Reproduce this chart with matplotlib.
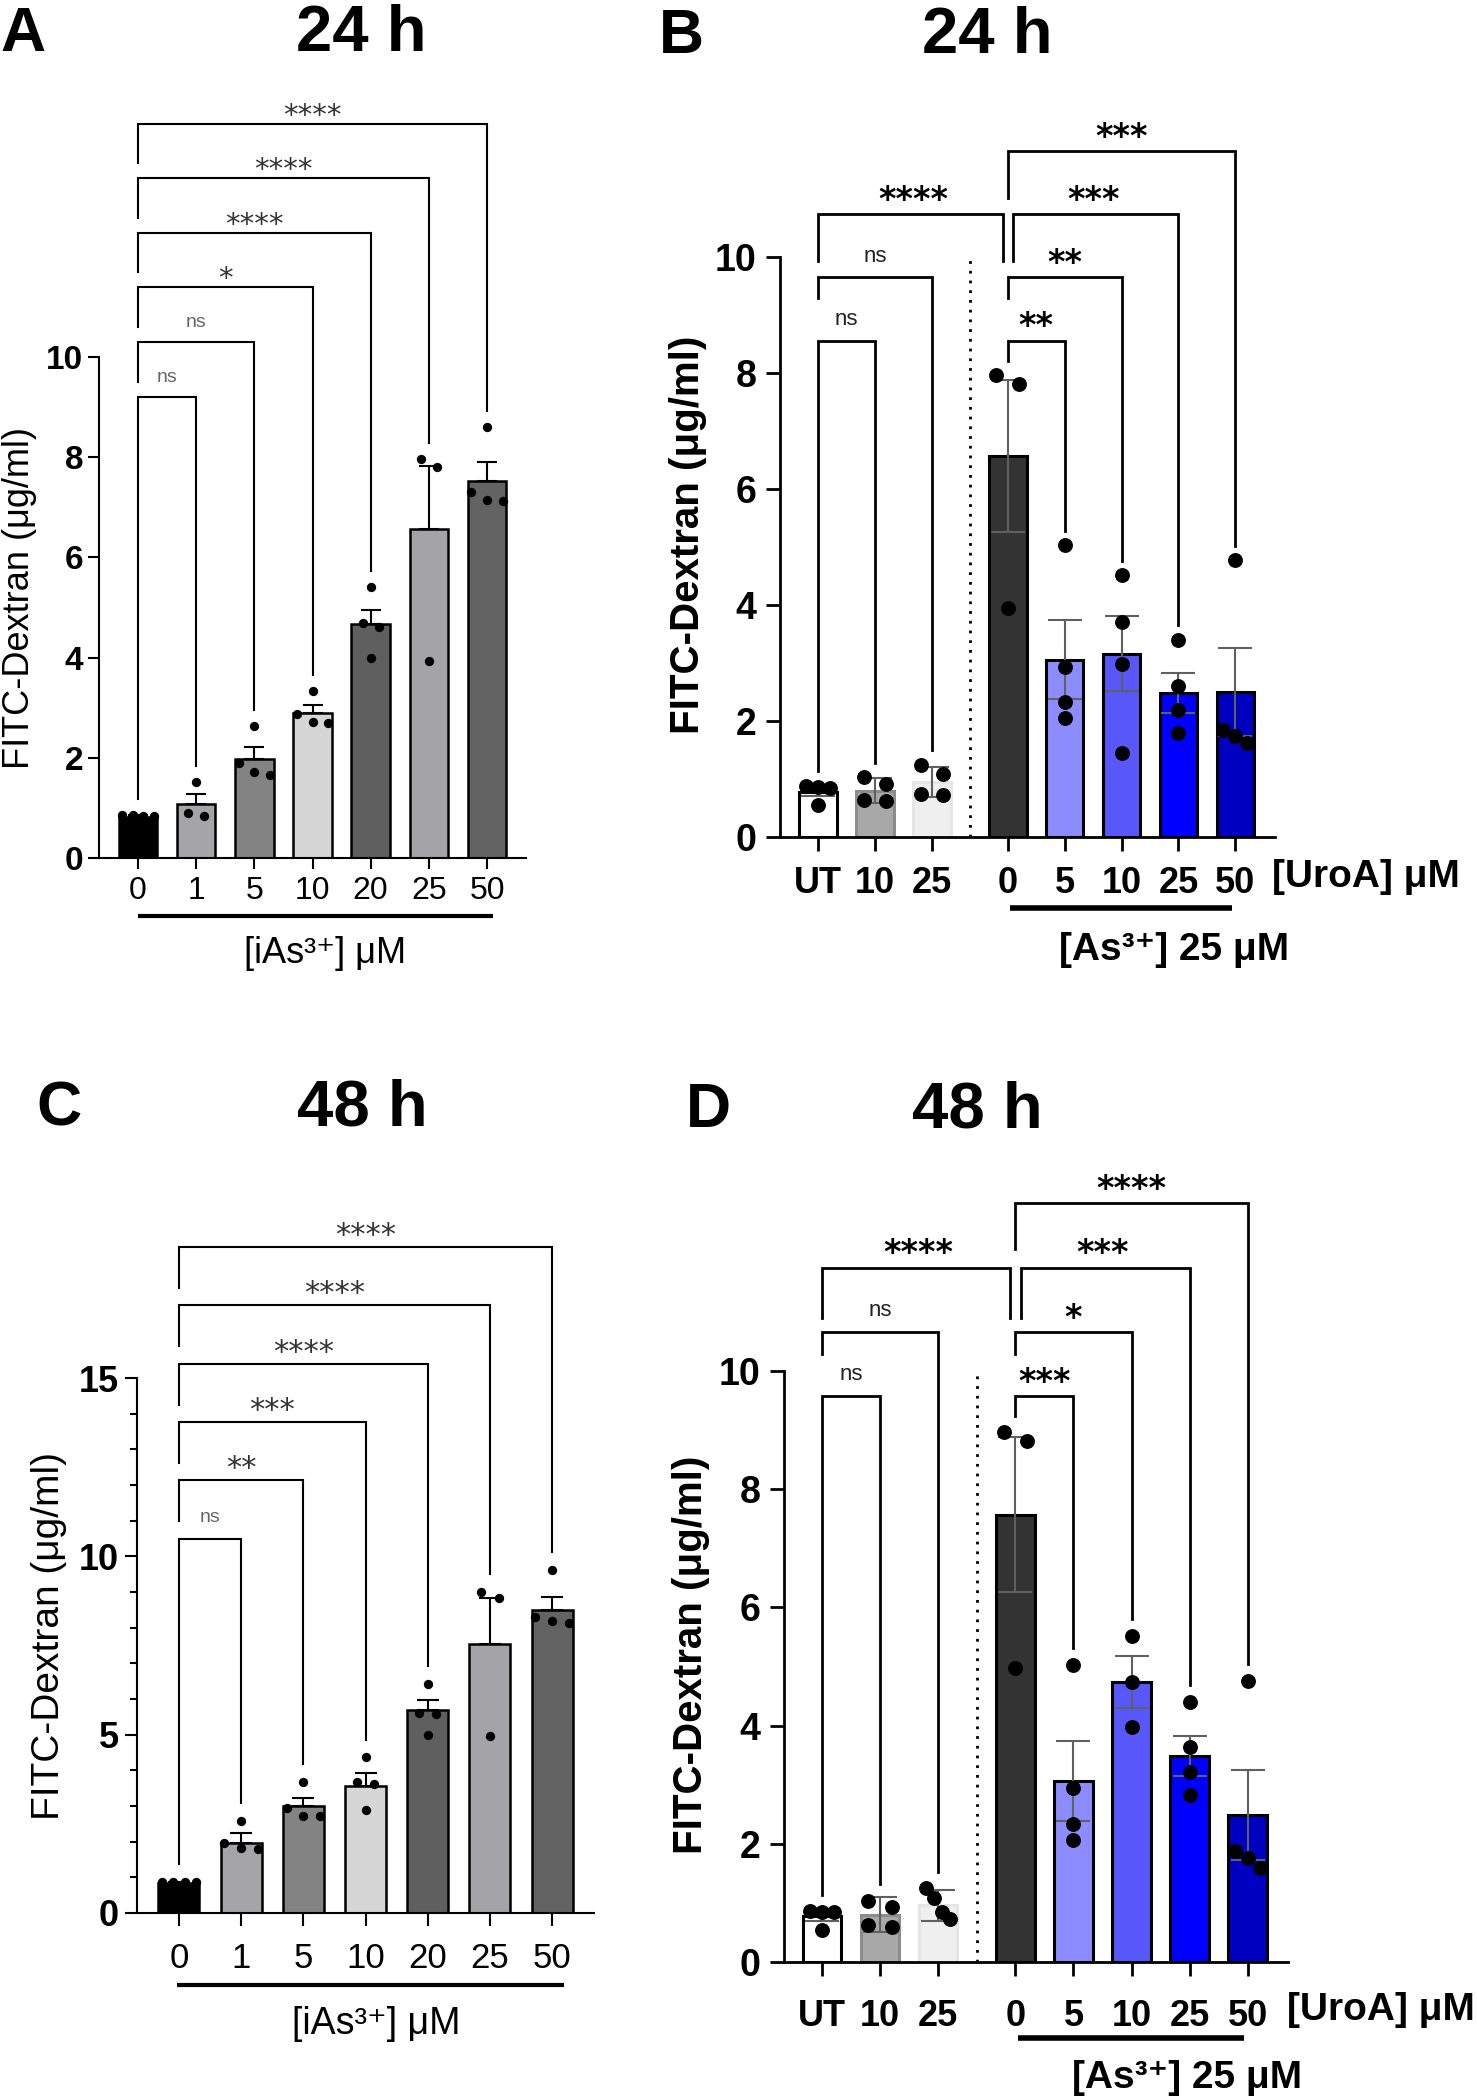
import numpy as np
import matplotlib.pyplot as plt
from matplotlib import font_manager

plt.rcParams['font.family'] = ['Liberation Sans', 'DejaVu Sans']

installed = {f.name for f in font_manager.fontManager.ttflist}
narrow = 'Liberation Sans Narrow' if 'Liberation Sans Narrow' in installed else 'Liberation Sans'

# ---------------- data ----------------
# A / C : iAs3+ dose response (24 h / 48 h)
dose_labels = ['0', '1', '5', '10', '20', '25', '50']
grey_cols = ['#000000', '#a5a5a8', '#838383', '#d6d6d6', '#5f5f5f', '#a3a3a8', '#636363']

a_mean = [0.82, 1.08, 1.98, 2.90, 4.68, 6.57, 7.52]
a_sem = [0.03, 0.20, 0.24, 0.16, 0.28, 1.26, 0.38]
a_points = [[0.86, 0.84, 0.85, 0.83], [1.52, 0.83, 0.89], [2.64, 1.65, 1.72, 1.90],
            [3.34, 2.71, 2.69, 2.88], [5.40, 4.00, 4.70, 4.61], [7.97, 7.81, 3.94],
            [8.60, 7.31, 7.12, 7.14]]
a_pairs = [(0, 1, 'ns'), (0, 2, 'ns'), (0, 3, '*'), (0, 4, '****'), (0, 5, '****'), (0, 6, '****')]

c_mean = [0.85, 1.97, 2.99, 3.57, 5.70, 7.54, 8.50]
c_sem = [0.03, 0.27, 0.24, 0.36, 0.26, 1.29, 0.37]
c_points = [[0.88, 0.87, 0.86, 0.87], [2.58, 1.82, 1.79, 1.97], [3.67, 2.73, 2.71, 2.95],
            [4.36, 2.89, 3.67, 3.61], [6.43, 4.98, 5.62, 5.58], [9.00, 8.82, 4.96],
            [9.62, 8.12, 8.31, 8.18]]
c_pairs = [(0, 1, 'ns'), (0, 2, '**'), (0, 3, '***'), (0, 4, '****'), (0, 5, '****'), (0, 6, '****')]

# B / D : UroA treatment with / without As3+ 25 uM
uro_labels = ['UT', '10', '25', '0', '5', '10', '25', '50']
uro_cols = ['#ffffff', '#a8a8a8', '#efefef', '#333333', '#8c8cff', '#5858fa', '#0000ff', '#0000c0']
uro_edges = ['black', '#8c8c8c', '#e6e6e6', 'black', 'black', 'black', 'black', 'black']

b_mean = [0.78, 0.80, 0.95, 6.57, 3.06, 3.16, 2.48, 2.50]
b_sem = [0.07, 0.22, 0.26, 1.31, 0.68, 0.65, 0.35, 0.76]
b_points = [[0.88, 0.87, 0.85, 0.55], [1.03, 0.92, 0.64, 0.62], [1.25, 1.08, 0.75, 0.72],
            [7.96, 7.81, 3.94], [5.03, 2.93, 2.32, 2.06], [4.51, 3.71, 2.99, 1.44],
            [3.40, 2.60, 2.19, 1.80], [4.77, 1.85, 1.75, 1.62]]
b_pairs = [(0, 1, 'ns'), (3, 4, '**'), (0, 2, 'ns'), (3, 5, '**'),
           (0, 3, '****'), (3, 6, '***'), (3, 7, '***')]

d_mean = [0.77, 0.80, 0.96, 7.57, 3.06, 4.74, 3.49, 2.49]
d_sem = [0.07, 0.30, 0.26, 1.31, 0.68, 0.44, 0.34, 0.76]
d_points = [[0.86, 0.85, 0.84, 0.54], [1.04, 0.93, 0.62, 0.60], [1.25, 1.08, 0.85, 0.72],
            [8.96, 8.82, 4.97], [5.03, 2.95, 2.33, 2.06], [5.52, 4.74, 3.97],
            [4.40, 3.63, 3.22, 2.83], [4.76, 1.87, 1.76, 1.59]]
d_pairs = [(0, 1, 'ns'), (3, 4, '***'), (0, 2, 'ns'), (3, 5, '*'),
           (0, 3, '****'), (3, 6, '***'), (3, 7, '****')]
uro_rows = [0, 0, 1, 1, 2, 2, 3]

W, H = 1477, 2100
fig = plt.figure(figsize=(W / 100, H / 100), dpi=100)


def box(x0, top, x1, bottom):
    return [x0 / W, 1 - bottom / H, (x1 - x0) / W, (bottom - top) / H]


def ftext(x, y, s, **kw):
    fig.text(x / W, 1 - y / H, s, **kw)


def spread(vals, thr, step, half):
    # simple swarm: points closer than thr in y are put side by side
    vals = np.asarray(vals)
    order = np.argsort(vals)[::-1]
    offs = np.zeros(len(vals))
    groups = []
    for k in order:
        if groups and vals[groups[-1][-1]] - vals[k] < thr:
            groups[-1].append(k)
        else:
            groups.append([k])
    for g in groups:
        n = len(g)
        if n > 1:
            d = min(step, 2 * half / (n - 1))
            for m, k in enumerate(g):
                offs[k] = (m - (n - 1) / 2) * d
    return offs


def draw_bars(ax, x, mean, sem, points, cols, edges, elw, two_sided, capsize, ecol,
              dot_s, thr, step, half):
    ax.bar(x, mean, width=0.66, color=cols, edgecolor=edges, linewidth=elw, zorder=2)
    lower = sem if two_sided else [0] * len(sem)
    ax.errorbar(x, mean, yerr=[lower, sem], fmt='none', ecolor=ecol, elinewidth=1.5,
                capsize=capsize, capthick=1.5, zorder=3)
    for xi, pts in zip(x, points):
        offs = spread(pts, thr, step, half)
        ax.scatter(xi + offs, pts, s=dot_s, color='black', zorder=4, clip_on=False,
                   linewidths=0)


def brackets(ax, x, points, pairs, rows, base, step, gap, drops, lw, star_kw, ns_kw,
             star_dy, ns_dy):
    controls = {p[0] for p in pairs}
    for (i, j, lab), r in zip(pairs, rows):
        y = base + step * r
        xi, xj = x[i], x[j]
        for (i2, j2, _), r2 in zip(pairs, rows):
            if r2 == r and j2 == i:
                xi += 0.09
            if r2 == r and i2 == j:
                xj -= 0.09

        def bottom(g):
            low = max(points[g]) + gap
            if g in controls and drops[r] is not None:
                return max(low, y - drops[r])
            return low
        ax.plot([xi, xi, xj, xj], [bottom(i), y, y, bottom(j)], color='black', lw=lw,
                clip_on=False, solid_joinstyle='miter', zorder=5)
        if lab == 'ns':
            ax.annotate(lab, ((x[i] + x[j]) / 2, y), xytext=(0, ns_dy), textcoords='offset points',
                        ha='center', va='baseline', annotation_clip=False, **ns_kw)
        else:
            ax.annotate(lab, ((x[i] + x[j]) / 2, y), xytext=(0, star_dy), textcoords='offset points',
                        ha='center', va='baseline', annotation_clip=False, **star_kw)


def style_axes(ax, spine_w, tick_len, ylab_fs, xfs, xbold, xfont, xpad, ypad):
    for s in ['top', 'right']:
        ax.spines[s].set_visible(False)
    for s in ['left', 'bottom']:
        ax.spines[s].set_linewidth(spine_w)
    ax.tick_params(axis='both', which='major', direction='out', length=tick_len, width=spine_w)
    ax.tick_params(axis='x', pad=xpad)
    ax.tick_params(axis='y', pad=ypad)
    for t in ax.get_yticklabels():
        t.set_fontsize(ylab_fs)
        t.set_fontweight('bold')
    for t in ax.get_xticklabels():
        t.set_fontsize(xfs)
        t.set_fontweight('bold' if xbold else 'normal')
        t.set_family(xfont)


# ---------------- panel A ----------------
axA = fig.add_axes(box(99, 357, 526, 858))
xa = np.arange(len(dose_labels))
draw_bars(axA, xa, a_mean, a_sem, a_points, grey_cols, 'black', 1.8, False, 7.5, 'black',
          45, 0.18, 0.28, 0.27)
axA.set_xlim(-0.67, 6.67)
axA.set_ylim(0, 10)
axA.set_yticks([0, 2, 4, 6, 8, 10])
axA.set_xticks(xa)
axA.set_xticklabels(dose_labels)
style_axes(axA, 1.5, 8, 24, 23, False, 'Liberation Sans', 5, 3.5)
brackets(axA, xa, a_points, a_pairs, list(range(6)), 9.21, 1.09, 0.32,
         [None] + [0.79] * 5, 1.5,
         dict(fontsize=21, color='#333333', family='DejaVu Sans'),
         dict(fontsize=14, color='#666666'), 0, 10.8)
axA.plot([0, 6.1], [-0.116, -0.116], transform=axA.get_xaxis_transform(), color='black',
         lw=3, clip_on=False, solid_capstyle='butt')
ftext(325, 953, '[iAs³⁺] μM', fontsize=26, ha='center', va='center')
ftext(20, 598, 'FITC-Dextran (μg/ml)', fontsize=26, rotation=90, ha='center', va='center')
ftext(0, 51, 'A', fontsize=45, fontweight='bold', ha='left', va='baseline')
ftext(361, 51, '24 h', fontsize=47, fontweight='bold', ha='center', va='baseline')

# ---------------- panel C ----------------
axC = fig.add_axes(box(137, 1378, 594, 1913))
draw_bars(axC, xa, c_mean, c_sem, c_points, grey_cols, 'black', 1.8, False, 8, 'black',
          45, 0.25, 0.28, 0.27)
axC.set_xlim(-0.675, 6.675)
axC.set_ylim(0, 15)
axC.set_yticks([0, 5, 10, 15])
axC.set_yticks(np.arange(0, 16), minor=True)
axC.set_xticks(xa)
axC.set_xticklabels(dose_labels)
style_axes(axC, 1.5, 9, 26, 25, False, 'Liberation Sans', 12, 4)
axC.tick_params(axis='y', which='minor', length=5, width=1.5)
brackets(axC, xa, c_points, c_pairs, list(range(6)), 10.5, 1.635, 0.5,
         [None] + [1.15] * 5, 1.5,
         dict(fontsize=22, color='#333333', family='DejaVu Sans'),
         dict(fontsize=14, color='#666666'), 2, 12)
axC.plot([-0.03, 6.19], [-0.135, -0.135], transform=axC.get_xaxis_transform(), color='black',
         lw=3, clip_on=False, solid_capstyle='butt')
ftext(376, 2024, '[iAs³⁺] μM', fontsize=27, ha='center', va='center')
ftext(49, 1636, 'FITC-Dextran (μg/ml)', fontsize=28, rotation=90, ha='center', va='center')
ftext(36, 1125, 'C', fontsize=45, fontweight='bold', ha='left', va='baseline')
ftext(362, 1125, '48 h', fontsize=47, fontweight='bold', ha='center', va='baseline')

# ---------------- panels B and D ----------------
xu = np.r_[np.arange(3), np.arange(5) + 3 + 1 / 3]
sep = (xu[2] + xu[3]) / 2

panels = [
    (box(780, 257, 1275, 837), (-0.67, 8.03), b_mean, b_sem, b_points, b_pairs, 8.56, 1.087, 0.25,
     [None, 0.35, 0.8, 0.8], 11, -0.122, (688, 535), (1272, 877), (1174, 950), (659, 53), 'B',
     (987, 53), '24 h'),
    (box(784, 1371, 1288, 1962), (-0.655, 8.03), d_mean, d_sem, d_points, d_pairs, 9.57, 1.09, 0.28,
     [None, 0.37, 0.85, 0.78], 17, -0.129, (691, 1655), (1287, 2010), (1187, 2078), (686, 1127), 'D',
     (977, 1127), '48 h'),
]
for (rect, xlim, mean, sem, pts, pairs, base, step, gap, drops, xpad, line_y,
     ylab_xy, uro_xy, as_xy, let_xy, letter, tit_xy, title) in panels:
    ax = fig.add_axes(rect)
    draw_bars(ax, xu, mean, sem, pts, uro_cols, uro_edges, 2.2, True, 12, '#606060',
              115, 0.25, 0.4, 0.21)
    ax.plot([sep, sep], [0, 10], ls=(0, (1, 2.5)), color='black', lw=2, zorder=1)
    ax.set_xlim(*xlim)
    ax.set_ylim(0, 10)
    ax.set_yticks([0, 2, 4, 6, 8, 10])
    ax.set_xticks(xu)
    ax.set_xticklabels(uro_labels)
    style_axes(ax, 2, 10, 27, 26, True, narrow, xpad, 7)
    for t in ax.get_yticklabels():
        t.set_family(narrow)
    brackets(ax, xu, pts, pairs, uro_rows, base, step, gap, drops, 2,
             dict(fontsize=24, color='black', family='DejaVu Sans', fontweight='bold'),
             dict(fontsize=16, color='#222222'), 3, 11.5)
    ax.plot([3.38, 7.27], [line_y, line_y], transform=ax.get_xaxis_transform(), color='black',
            lw=4, clip_on=False, solid_capstyle='butt')
    ftext(*ylab_xy, 'FITC-Dextran (μg/ml)', fontsize=29, fontweight='bold', rotation=90,
          ha='center', va='center')
    ftext(*uro_xy, '[UroA] μM', fontsize=28, fontweight='bold', ha='left', va='center')
    ftext(*as_xy, '[As³⁺] 25 μM', fontsize=28, fontweight='bold', ha='center', va='center')
    ftext(*let_xy, letter, fontsize=45, fontweight='bold', ha='left', va='baseline')
    ftext(*tit_xy, title, fontsize=47, fontweight='bold', ha='center', va='baseline')

fig.savefig('out.png', dpi=100)
